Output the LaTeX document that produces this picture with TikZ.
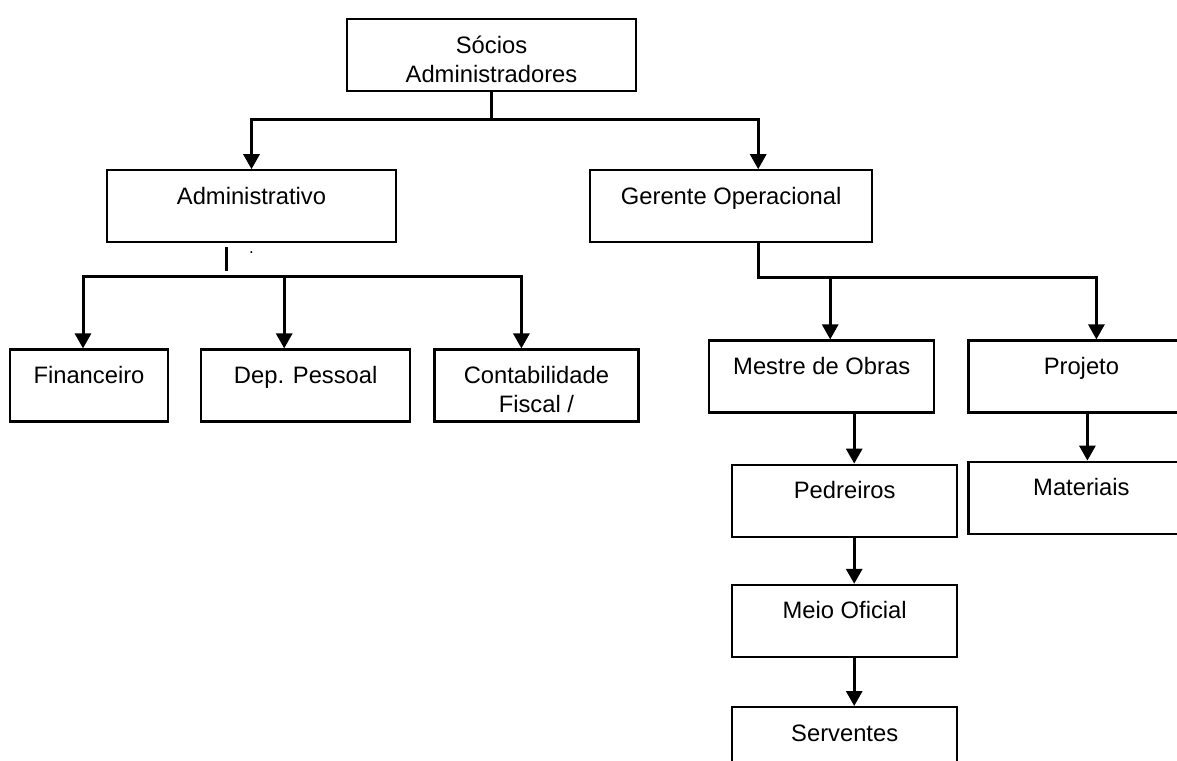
\documentclass[tikz,border=0pt]{standalone}
\usepackage{fontspec}
\setmainfont{Liberation Sans}
\usetikzlibrary{arrows.meta,positioning}
\tikzset{
  unit/.style={draw, line width=0.55mm, align=center, inner xsep=0pt, inner ysep=0pt, text height=8.5mm, text depth=9.5mm, font=\fontsize{16.9pt}{20.6pt}\selectfont},
  unittwo/.style={unit, text height=15.75mm, text depth=2.25mm},
  arrow/.style={-{Triangle[length=3.75mm,width=4mm]}, line width=0.75mm},
  link/.style={line width=0.55mm}
}
\begin{document}
\begin{tikzpicture}[node distance=12mm and 8mm]
  \useasboundingbox (0,0) rectangle (294.25mm,-190mm);
  \node[unittwo, minimum width=72.25mm, anchor=north] (socios) at (122.875mm,-4.5mm) {Sócios\\Administradores};
  \node[unit, minimum width=72.25mm, below=19.25mm of socios, xshift=-60mm] (adm) {Administrativo};
  \node[unit, minimum width=70.5mm, right=48mm of adm] (ger) {Gerente Operacional};
  \node[unit, minimum width=39.5mm, below=26.25mm of adm, xshift=-40.625mm] (fin) {Financeiro};
  \node[unit, minimum width=52.25mm, right=7.75mm of fin] (dep) {Dep. Pessoal};
  \node[unittwo, minimum width=51mm, right=5.5mm of dep] (cont) {Contabilidade\\Fiscal /};
  \node[unit, minimum width=56.25mm, below=24mm of ger, xshift=22.625mm] (mestre) {Mestre de Obras};
  \node[unit, minimum width=56.5mm, right=8mm of mestre] (proj) {Projeto};
  \node[unit, minimum width=56.5mm, below=11.75mm of proj] (mat) {Materiais};
  \node[unit, minimum width=56.25mm, below=12.5mm of mestre, xshift=5.75mm] (ped) {Pedreiros};
  \node[unit, minimum width=56.25mm, below=11.5mm of ped] (meio) {Meio Oficial};
  \node[unit, minimum width=56.25mm, below=12mm of meio] (serv) {Serventes};
  \node[font=\fontsize{12pt}{12pt}\selectfont, inner sep=0pt, below=2mm of adm] (dot) {.};
  \draw[arrow] (socios.south) -- ++(0,-6.75mm) -| (adm.north);
  \draw[arrow] (socios.south) -- ++(0,-6.75mm) -| ([xshift=6.75mm]ger.north);
  \draw[link] ([xshift=-6.25mm,yshift=-1mm]adm.south) -- ++(0,-6mm);
  \coordinate[below=8.25mm of adm.south] (admbus);
  \draw[arrow] (admbus) -| ([xshift=-1.5mm]fin.north);
  \draw[arrow] (admbus) -| ([xshift=-5.375mm]dep.north);
  \draw[arrow] (admbus) -| ([xshift=-3.75mm]cont.north);
  \draw[arrow] ([xshift=6.75mm]ger.south) -- ++(0,-8.5mm) -| ([xshift=2.125mm]mestre.north);
  \draw[arrow] ([xshift=6.75mm]ger.south) -- ++(0,-8.5mm) -| ([xshift=3.75mm]proj.north);
  \draw[arrow] ([xshift=1.5mm]proj.south) -- ([xshift=1.5mm]mat.north);
  \draw[arrow] ([xshift=2.375mm]ped.north |- mestre.south) -- ([xshift=2.375mm]ped.north);
  \draw[arrow] ([xshift=2.375mm]meio.north |- ped.south) -- ([xshift=2.375mm]meio.north);
  \draw[arrow] ([xshift=2.375mm]serv.north |- meio.south) -- ([xshift=2.375mm]serv.north);
\end{tikzpicture}
\end{document}
